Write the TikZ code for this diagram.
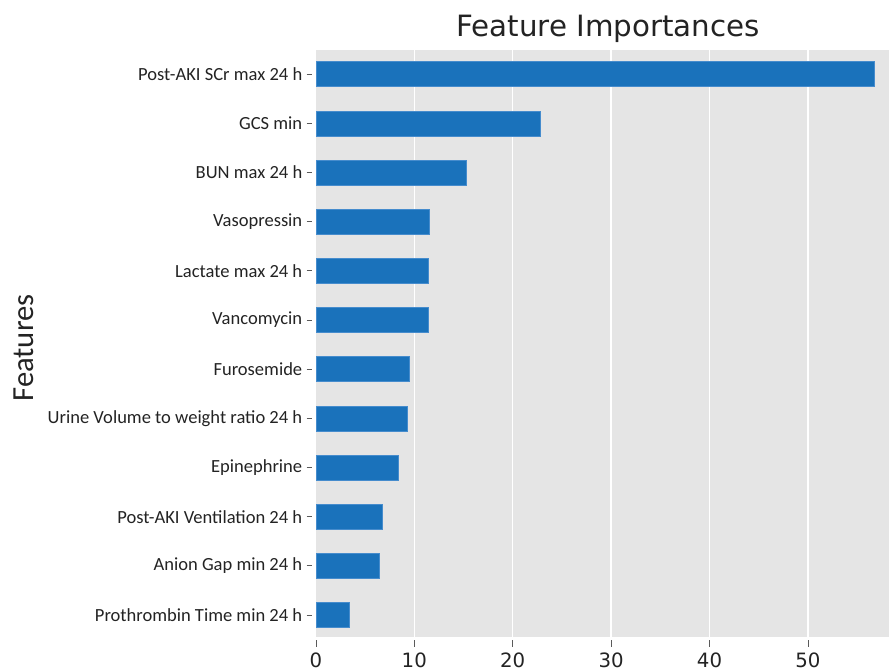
\documentclass[tikz,border=0pt]{standalone}
\usepackage{fontspec}
\setmainfont{Carlito}
\newfontfamily\djv{DejaVu Sans}
\definecolor{barblue}{RGB}{26,114,187}
\definecolor{baredge}{RGB}{70,140,205}
\definecolor{plotbg}{RGB}{229,229,229}
\definecolor{tickgray}{RGB}{90,90,90}
\definecolor{txt}{RGB}{35,35,35}
\begin{document}
\begin{tikzpicture}[x=0.75pt,y=-0.75pt,
  featlabel/.style={anchor=east,inner sep=0pt,text=txt,font=\fontsize{13.9pt}{15pt}\selectfont},
  xticklabel/.style={inner sep=0pt,text=txt,font=\djv\fontsize{14.8pt}{16pt}\selectfont},
  barstyle/.style={fill=barblue,draw=baredge,line width=0.4pt},
  grid/.style={white,line width=1.1pt},
  tickmark/.style={tickgray,line width=0.6pt}]
\useasboundingbox (0,0) rectangle (889,670);
\fill[plotbg] (315.9,50) rectangle (889,637);
\foreach \v in {10,20,...,50}{
  \draw[grid] ({315.9+9.84*\v},50) -- ({315.9+9.84*\v},637);
}
\foreach \i/\v/\t in {0/56.79/{Post-AKI SCr max 24 h},1/22.85/{GCS min},2/15.25/{BUN max 24 h},3/11.53/{Vasopressin},4/11.39/{Lactate max 24 h},5/11.39/{Vancomycin},6/9.46/{Furosemide},7/9.29/{Urine Volume to weight ratio 24 h},8/8.41/{Epinephrine},9/6.75/{Post-AKI Ventilation 24 h},10/6.48/{Anion Gap min 24 h},11/3.36/{Prothrombin Time min 24 h}}{
  \pgfmathsetmacro\yc{74.2+49.16*\i}
  \draw[barstyle] (315.9,{\yc-12.5}) rectangle ({315.9+9.84*\v},{\yc+12.5});
  \draw[tickmark] (306.5,\yc) -- (312,\yc);
  \node[featlabel] (lab\i) at (302.5,\yc) {\t};
}
\foreach \v in {0,10,...,50}{
  \draw[tickmark] ({315.9+9.84*\v},640) -- ({315.9+9.84*\v},647);
  \node[xticklabel] (xt\v) at ({315.9+9.84*\v},660) {\v};
}
\node[inner sep=0pt,text=txt,font=\djv\fontsize{22pt}{25pt}\selectfont] (title) at (608,29) {Feature Importances};
\node[inner sep=0pt,rotate=90,text=txt,font=\fontsize{23pt}{26pt}\selectfont] (ylab) at (24,348) {Features};
\end{tikzpicture}
\end{document}
